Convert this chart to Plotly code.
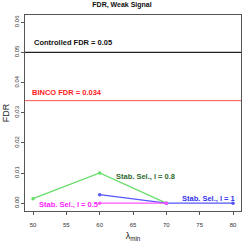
import plotly.graph_objects as go

lam_08 = [50, 60, 70]
fdr_08 = [0.0015, 0.010, 0.0]
lam_1 = [60, 70, 80]
fdr_1 = [0.0028, 0.0, 0.0]
lam_05 = [60, 70]
fdr_05 = [0.0, 0.0]
controlled_fdr = 0.05
binco_fdr = 0.034
x_ticks = [50, 55, 60, 65, 70, 75, 80]
y_ticks = [0.00, 0.01, 0.02, 0.03, 0.04, 0.05, 0.06]

fig = go.Figure()
series = [
    (lam_08, fdr_08, "#66dd66"),
    (lam_1, fdr_1, "#5555ff"),
    (lam_05, fdr_05, "#ff55ff"),
]
for xs, ys, c in series:
    fig.add_trace(go.Scatter(x=xs, y=ys, mode="lines+markers",
                             line=dict(color=c, width=1.2),
                             marker=dict(color=c, size=3.5),
                             showlegend=False, cliponaxis=False))

fig.add_hline(y=controlled_fdr, line=dict(color="#222222", width=1.2))
fig.add_hline(y=binco_fdr, line=dict(color="#ff5555", width=1))

font_b = "Liberation Sans"
def lab(x, y, t, c):
    fig.add_annotation(x=x, y=y, text="<b>" + t + "</b>", showarrow=False,
                       xanchor="left", yanchor="middle",
                       font=dict(family=font_b, size=7.5, color=c))

lab(49.9, 0.0533, "Controlled FDR = 0.05", "#111111")
lab(49.6, 0.0367, "BINCO FDR = 0.034", "#ff2222")
lab(62.1, 0.0090, "Stab. Sel., l = 0.8", "#2d6a2d")
lab(72.0, 0.0017, "Stab. Sel., l = 1", "#3333ee")
lab(50.6, -0.0003, "Stab. Sel., l = 0.5", "#ff22ff")

axis_common = dict(showgrid=False, zeroline=False, showline=True, mirror=True,
                   linecolor="#555555", linewidth=1, ticks="outside",
                   ticklen=3, tickcolor="#555555",
                   tickfont=dict(family=font_b, size=6, color="#333333"))

fig.update_layout(
    width=244, height=242,
    margin=dict(l=25, r=3, t=15, b=31),
    plot_bgcolor="white", paper_bgcolor="white",
    title=dict(text="<b>FDR, Weak Signal</b>", x=0.5, xanchor="center",
               y=0.99, yanchor="top",
               font=dict(family=font_b, size=7, color="#111111")),
    xaxis=dict(range=[48.8, 81.2], tickvals=x_ticks,
               ticktext=[str(v) for v in x_ticks], ticklabelstandoff=5,
               title=dict(text="λ<sub>min</sub>", standoff=5,
                          font=dict(family=font_b, size=9, color="#222222")),
               **axis_common),
    yaxis=dict(range=[-0.0026, 0.0624], tickvals=y_ticks,
               ticktext=["%.2f" % v for v in y_ticks], tickangle=-90,
               title=dict(text="FDR", standoff=2,
                          font=dict(family=font_b, size=9, color="#222222")),
               **axis_common),
)

fig.write_html("out.html", config={"displayModeBar": False},
               post_script="document.body.style.margin='0';document.body.style.overflow='hidden';")
